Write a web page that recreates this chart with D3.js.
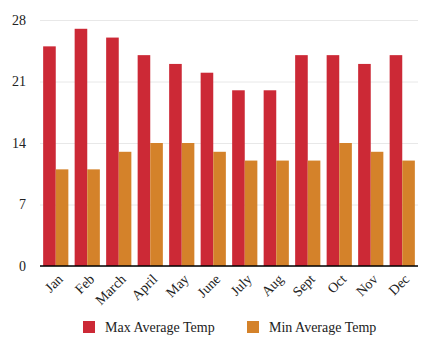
<!DOCTYPE html>
<html>
<head>
<meta charset="utf-8">
<script src="https://cdn.jsdelivr.net/npm/d3@7"></script>
<style>
  body { margin: 0; background: #fff; }
  svg text { font-family: "Liberation Serif", "Times New Roman", Times, serif !important; }
  .grid line { stroke: #e8e8e8; }
  .grid path { display: none; }
  .axis path, .axis line { display: none; }
  .axis text { font-size: 14px; fill: #222; }
</style>
</head>
<body>
<svg id="chart" width="429" height="343"></svg>
<script>
const months = ["Jan", "Feb", "March", "April", "May", "June", "July", "Aug", "Sept", "Oct", "Nov", "Dec"];
const maxTemp = [25, 27, 26, 24, 23, 22, 20, 20, 24, 24, 23, 24];
const minTemp = [11, 11, 13, 14, 14, 13, 12, 12, 12, 14, 13, 12];
const yTicks = [0, 7, 14, 21, 28];
const seriesNames = ["Max Average Temp", "Min Average Temp"];
const colors = ["#cc2936", "#d4822a"];

const margin = { top: 20, right: 11, bottom: 77, left: 40 };
const width = 429 - margin.left - margin.right;
const height = 343 - margin.top - margin.bottom;

const svg = d3.select("#chart")
  .append("g")
  .attr("transform", `translate(${margin.left},${margin.top})`);

const x = d3.scaleBand().domain(months).range([0, width]).paddingInner(0.2).paddingOuter(0.1);
const xSub = d3.scaleBand().domain([0, 1]).range([0, x.bandwidth()]);
const y = d3.scaleLinear().domain([0, 28]).range([height, 0]);

svg.append("g")
  .attr("class", "grid")
  .call(d3.axisLeft(y).tickValues(yTicks).tickSize(-width).tickFormat(""));

const series = [maxTemp, minTemp];
series.forEach((vals, s) => {
  svg.append("g")
    .attr("fill", colors[s])
    .selectAll("rect")
    .data(vals)
    .join("rect")
    .attr("x", (d, i) => x(months[i]) + xSub(s))
    .attr("y", d => y(d))
    .attr("width", xSub.bandwidth())
    .attr("height", d => height - y(d));
});

svg.append("line")
  .attr("x1", 0).attr("x2", width)
  .attr("y1", height).attr("y2", height)
  .attr("stroke", "#000").attr("stroke-width", 1.5);

svg.append("g")
  .attr("class", "axis axis-y")
  .call(d3.axisLeft(y).tickValues(yTicks).tickSize(0).tickPadding(14));

svg.append("g")
  .attr("class", "axis axis-x")
  .attr("transform", `translate(0,${height})`)
  .call(d3.axisBottom(x).tickSize(0).tickPadding(0))
  .selectAll("text")
  .attr("text-anchor", "end")
  .attr("dy", "0")
  .attr("transform", "translate(8,14) rotate(-45)");

// legend
const legend = d3.select("#chart").append("g")
  .attr("transform", "translate(83,327)");
const items = legend.selectAll("g")
  .data(seriesNames)
  .join("g")
  .attr("transform", (d, i) => `translate(${i * 164},0)`);
items.append("rect")
  .attr("width", 12).attr("height", 12)
  .attr("y", -6)
  .attr("fill", (d, i) => colors[i]);
items.append("text")
  .attr("x", 22)
  .attr("dy", "0.35em")
  .attr("font-size", 14)
  .attr("fill", "#222")
  .text(d => d);
</script>
</body>
</html>
